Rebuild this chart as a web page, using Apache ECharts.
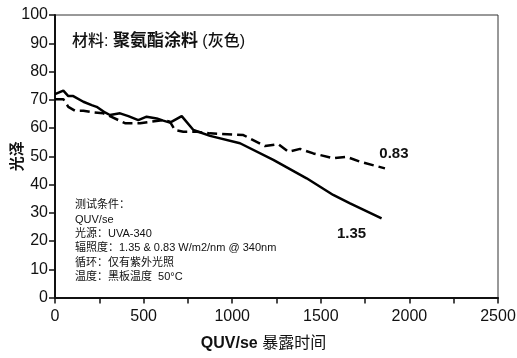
<!DOCTYPE html>
<html><head><meta charset="utf-8">
<script src="https://cdn.jsdelivr.net/npm/echarts@6/dist/echarts.min.js"></script>
<style>html,body{margin:0;padding:0;background:#fff}#c{width:517px;height:358px}</style>
</head><body><div id="c"></div>
<script>
const xTicks = [0, 500, 1000, 1500, 2000, 2500];
const yTicks = [0, 10, 20, 30, 40, 50, 60, 70, 80, 90, 100];
const s135X = [0, 47, 75, 103, 160, 207, 235, 282, 310, 367, 414, 470, 517, 574, 611, 649, 715, 781, 875, 1044, 1232, 1420, 1570, 1665, 1843];
const s135Y = [72.0, 73.2, 71.3, 71.3, 69.3, 68.1, 67.5, 65.5, 64.6, 65.2, 64.2, 62.8, 64.0, 63.4, 62.6, 61.9, 64.2, 59.3, 57.2, 54.6, 48.7, 42.2, 36.3, 33.3, 28.0];
const s083X = [0, 47, 75, 113, 160, 216, 273, 310, 395, 480, 536, 611, 649, 677, 724, 800, 875, 1063, 1185, 1260, 1317, 1383, 1458, 1571, 1646, 1721, 1862];
const s083Y = [70.2, 70.2, 67.5, 66.1, 66.1, 65.5, 65.2, 64.2, 61.7, 61.7, 62.2, 62.8, 62.2, 59.3, 58.7, 58.7, 58.1, 57.5, 53.6, 54.3, 51.6, 52.6, 51.0, 49.3, 49.8, 48.1, 45.7];
const seriesNames = ['1.35', '0.83'];
const titleParts = ['材料: ', '聚氨酯涂料', ' (灰色)'];
const noteLines = ['测试条件：', 'QUV/se', '光源：UVA-340', '辐照度：1.35 & 0.83 W/m2/nm @ 340nm', '循环：仅有紫外光照', '温度：黑板温度  50°C'];
const xName = ['QUV/se', ' 暴露时间'];
const yName = '光泽';

const font = 'Helvetica, Arial, "Liberation Sans", "Noto Sans CJK SC", sans-serif';
const chart = echarts.init(document.getElementById('c'));
const zip = (xs, ys) => xs.map((x, i) => [x, ys[i]]);
const n135 = s135X.length - 1, n083 = s083X.length - 1;
chart.setOption({
  animation: false,
  textStyle: { fontFamily: font },
  grid: { left: 55, right: 19, top: 15, bottom: 60.5, outerBoundsMode: 'none', containLabel: false, show: true, borderColor: '#333', borderWidth: 1, backgroundColor: 'transparent' },
  title: {
    left: 67, top: 28,
    text: '{a|' + titleParts[0] + '}{b|' + titleParts[1] + '}{a|' + titleParts[2] + '}',
    textStyle: { rich: {
      a: { fontSize: 16, fontWeight: 500, color: '#111', fontFamily: font },
      b: { fontSize: 17, fontWeight: 'bold', color: '#111', fontFamily: font }
    } }
  },
  graphic: [{
    type: 'text', left: 75, top: 198,
    style: { text: noteLines.join('\n'), font: '11px ' + font, lineHeight: 14.4, fill: '#111' }
  }],
  xAxis: {
    type: 'value', min: xTicks[0], max: xTicks[xTicks.length - 1], interval: 500,
    name: '{a|' + xName[0] + '}{b|' + xName[1] + '}', nameLocation: 'middle', nameGap: 38, nameMoveOverlap: false,
    nameTextStyle: { padding: [0, 26, 0, 0], rich: {
      a: { fontSize: 16, fontWeight: 'bold', color: '#111', fontFamily: font },
      b: { fontSize: 16, color: '#111', fontFamily: font }
    } },
    axisLine: { show: true, lineStyle: { color: '#111', width: 2 } },
    axisTick: { show: true, length: 6, lineStyle: { color: '#111', width: 1.5 } },
    minorTick: { show: true, splitNumber: 2, length: 6, lineStyle: { color: '#111', width: 1.5 } },
    axisLabel: { fontSize: 16, color: '#111', margin: 11, formatter: v => String(v) },
    splitLine: { show: false }
  },
  yAxis: {
    type: 'value', min: yTicks[0], max: yTicks[yTicks.length - 1], interval: 10,
    name: yName, nameLocation: 'middle', nameGap: 30, nameRotate: 90, nameMoveOverlap: false,
    nameTextStyle: { fontSize: 15, fontWeight: 'bold', color: '#111' },
    axisLine: { show: true, lineStyle: { color: '#111', width: 2 } },
    axisTick: { show: true, length: 6, lineStyle: { color: '#111', width: 1.5 } },
    axisLabel: { fontSize: 16, color: '#111', margin: 7, formatter: v => String(v) },
    splitLine: { show: false }
  },
  series: [{
    name: seriesNames[0], type: 'line', showSymbol: false, symbol: 'none',
    data: zip(s135X, s135Y),
    lineStyle: { color: '#000', width: 2.5 },
    markPoint: { symbol: 'circle', symbolSize: 0, data: [{ coord: [s135X[n135], s135Y[n135]], value: seriesNames[0] }],
      label: { show: true, formatter: seriesNames[0], offset: [-30, 15], fontSize: 15, fontWeight: 'bold', color: '#111' } }
  }, {
    name: seriesNames[1], type: 'line', showSymbol: false, symbol: 'none',
    data: zip(s083X, s083Y),
    lineStyle: { color: '#000', width: 2.5, type: [10, 5] },
    markPoint: { symbol: 'circle', symbolSize: 0, data: [{ coord: [s083X[n083], s083Y[n083]], value: seriesNames[1] }],
      label: { show: true, formatter: seriesNames[1], offset: [9, -15], fontSize: 15, fontWeight: 'bold', color: '#111' } }
  }]
});
</script></body></html>
